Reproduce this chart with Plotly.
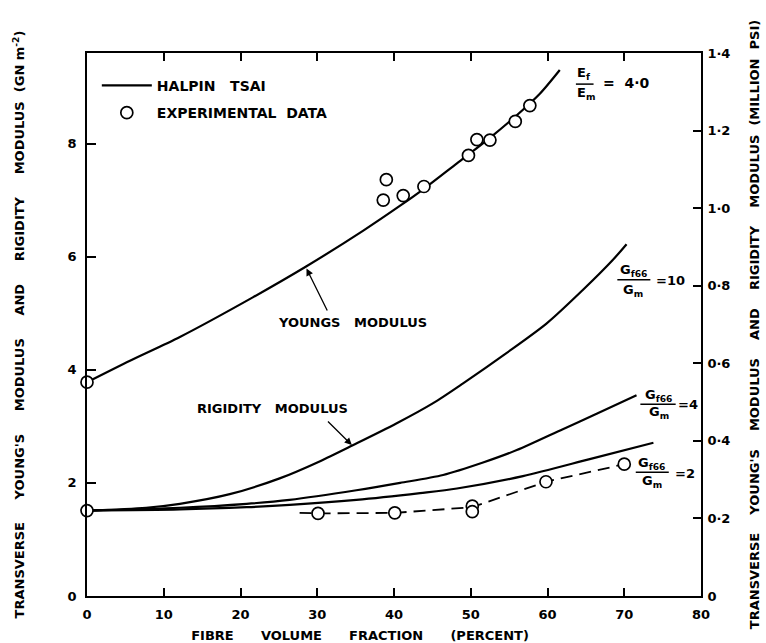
import plotly.graph_objects as go

# ---------------- data ----------------
# Halpin-Tsai prediction, transverse Young's modulus (Ef/Em = 4.0)
x_young = [0, 5.6, 12.1, 21.6, 28.6, 36.0, 40.8, 43.8, 48.2, 52.5, 56.0, 59.0, 61.6]
y_young = [3.78, 4.16, 4.58, 5.28, 5.83, 6.46, 6.90, 7.19, 7.65, 8.10, 8.50, 8.88, 9.30]

# Halpin-Tsai prediction, rigidity modulus, Gf66/Gm = 10
x_g10 = [0, 7.7, 12.1, 18.6, 25.1, 30.3, 34.7, 40.3, 45.1, 49.0, 54.6, 59.9, 64.6, 68.5, 70.3]
y_g10 = [1.51, 1.56, 1.63, 1.80, 2.08, 2.38, 2.67, 3.05, 3.41, 3.76, 4.29, 4.82, 5.41, 5.94, 6.22]

# Gf66/Gm = 4
x_g4 = [0, 12.1, 20.8, 26.4, 35.1, 40.8, 46.4, 51.6, 56.0, 62.0, 66.4, 71.6]
y_g4 = [1.51, 1.56, 1.63, 1.70, 1.87, 2.00, 2.14, 2.36, 2.58, 2.95, 3.22, 3.55]

# Gf66/Gm = 2
x_g2 = [0, 12.1, 20.8, 26.4, 35.1, 43.4, 48.2, 56.8, 65.5, 73.8]
y_g2 = [1.51, 1.53, 1.57, 1.61, 1.70, 1.82, 1.90, 2.12, 2.42, 2.71]

# Experimental data
x_exp_young = [0, 38.6, 39.0, 41.2, 43.9, 49.7, 50.8, 52.5, 55.8, 57.7]
y_exp_young = [3.78, 7.00, 7.36, 7.08, 7.24, 7.79, 8.07, 8.06, 8.39, 8.67]
x_exp_rig = [0, 30.1, 40.1, 50.2, 50.2, 59.8, 70.0]
y_exp_rig = [1.51, 1.46, 1.47, 1.59, 1.49, 2.02, 2.33]

# Dashed trend line through rigidity data
x_dash = [27.7, 30.1, 40.1, 50.2, 59.8, 70.0]
y_dash = [1.47, 1.46, 1.47, 1.57, 2.02, 2.33]

# Axis ticks
x_ticks = [0, 10, 20, 30, 40, 50, 60, 70, 80]
y_ticks = [0, 2, 4, 6, 8]
y2_ticks = [0, 0.2, 0.4, 0.6, 0.8, 1.0, 1.2, 1.4]
y2_ticktext = ["0", "0·2", "0·4", "0·6", "0·8", "1·0", "1·2", "1·4"]

# ---------------- figure ----------------
FONT = "DejaVu Sans"
BLACK = "black"


def sp(n):
    return "&nbsp;" * n


fig = go.Figure()

line_style = dict(color=BLACK, width=2.2, shape="spline", smoothing=0.8)
fig.add_trace(go.Scatter(x=x_young, y=y_young, mode="lines", line=line_style,
                         name="HALPIN" + sp(3) + "TSAI", legendgroup="ht",
                         showlegend=True, cliponaxis=False, hoverinfo="skip"))
for xs, ys in [(x_g10, y_g10), (x_g4, y_g4), (x_g2, y_g2)]:
    fig.add_trace(go.Scatter(x=xs, y=ys, mode="lines", line=line_style,
                             legendgroup="ht", showlegend=False,
                             cliponaxis=False, hoverinfo="skip"))

fig.add_trace(go.Scatter(x=x_dash, y=y_dash, mode="lines",
                         line=dict(color=BLACK, width=1.8, dash="12px,7px"),
                         showlegend=False, hoverinfo="skip"))

marker_style = dict(symbol="circle", size=12, color="white",
                    line=dict(color=BLACK, width=1.7))
fig.add_trace(go.Scatter(x=x_exp_young, y=y_exp_young, mode="markers",
                         marker=marker_style, name="EXPERIMENTAL" + sp(2) + "DATA",
                         legendgroup="exp", cliponaxis=False))
fig.add_trace(go.Scatter(x=x_exp_rig, y=y_exp_rig, mode="markers",
                         marker=marker_style, legendgroup="exp",
                         showlegend=False, cliponaxis=False))

# empty trace so the right-hand (million psi) axis is drawn
fig.add_trace(go.Scatter(x=[], y=[], yaxis="y2", mode="lines",
                         showlegend=False, hoverinfo="skip"))

# ---------------- annotations ----------------
annotations = []


def txt(x, y, text, xanchor="center", size=13):
    annotations.append(dict(x=x, y=y, xref="x", yref="y", text=text,
                            showarrow=False, xanchor=xanchor, yanchor="middle",
                            font=dict(family=FONT, size=size, color=BLACK, weight="bold")))


shapes = []


def bar(x0, x1, y):
    shapes.append(dict(type="line", xref="x", yref="y", x0=x0, x1=x1, y0=y, y1=y,
                       line=dict(color=BLACK, width=1.5)))


# Ef/Em = 4.0
txt(64.8, 9.23, "E<sub>f</sub>")
bar(63.7, 66.0, 9.05)
txt(65.0, 8.89, "E<sub>m</sub>")
txt(67.0, 9.07, "=" + sp(2) + "4·0", xanchor="left", size=14)

# Gf66/Gm = 10
txt(71.2, 5.75, "G<sub>f66</sub>")
bar(69.1, 73.4, 5.59)
txt(71.1, 5.41, "G<sub>m</sub>")
txt(73.9, 5.57, "=10", xanchor="left")

# Gf66/Gm = 4
txt(74.4, 3.55, "G<sub>f66</sub>")
bar(72.1, 76.7, 3.39)
txt(74.5, 3.24, "G<sub>m</sub>")
txt(76.8, 3.38, "=4", xanchor="left")

# Gf66/Gm = 2
txt(73.6, 2.35, "G<sub>f66</sub>")
bar(71.5, 75.8, 2.19)
txt(73.6, 2.02, "G<sub>m</sub>")
txt(76.3, 2.16, "=2", xanchor="left")

# curve labels
txt(34.65, 4.84, "YOUNGS" + sp(3) + "MODULUS")
txt(24.2, 3.32, "RIGIDITY" + sp(3) + "MODULUS")

# arrows
for hx, hy, tx, ty in [(28.6, 5.79, 31.4, 5.02), (34.5, 2.67, 31.2, 3.11)]:
    annotations.append(dict(x=hx, y=hy, xref="x", yref="y", ax=tx, ay=ty,
                            axref="x", ayref="y", text="", showarrow=True,
                            arrowhead=2, arrowsize=1.1, arrowwidth=1.3,
                            arrowcolor=BLACK))

tick_font = dict(family=FONT, size=13, color=BLACK, weight="bold")
title_font = dict(family=FONT, size=13, color=BLACK, weight="bold")

fig.update_layout(
    width=766, height=643,
    margin=dict(l=87, r=65, t=53, b=47, pad=0),
    paper_bgcolor="white", plot_bgcolor="white",
    showlegend=True,
    legend=dict(x=0.016, y=0.969, xanchor="left", yanchor="top",
                bgcolor="rgba(0,0,0,0)", borderwidth=0,
                font=dict(family=FONT, size=14, color=BLACK, weight="bold"),
                itemwidth=50, tracegroupgap=6, traceorder="grouped"),
    annotations=annotations,
    shapes=shapes,
    xaxis=dict(
        range=[0, 80], tickvals=x_ticks, ticks="inside", ticklen=8, tickwidth=1.5,
        tickcolor=BLACK, showline=True, linecolor=BLACK, linewidth=1.6,
        mirror="ticks", showgrid=False, zeroline=False, tickfont=tick_font,
        ticklabelstandoff=6, automargin=False,
        title=dict(text="FIBRE" + sp(6) + "VOLUME" + sp(6) + "FRACTION" + sp(6)
                   + "(PERCENT)" + sp(15),
                   font=title_font, standoff=11),
    ),
    yaxis=dict(
        range=[0, 9.6], tickvals=y_ticks, ticks="inside", ticklen=9, tickwidth=1.5,
        tickcolor=BLACK, showline=True, linecolor=BLACK, linewidth=1.6,
        mirror=False, showgrid=False, zeroline=False, tickfont=tick_font,
        ticklabelstandoff=6, automargin=False,
        title=dict(text="TRANSVERSE" + sp(5) + "YOUNG'S" + sp(5) + "MODULUS" + sp(5)
                   + "AND" + sp(5) + "RIGIDITY" + sp(5) + "MODULUS" + sp(2)
                   + "(GN&nbsp;m<sup>-2</sup>)",
                   font=title_font, standoff=40),
    ),
    yaxis2=dict(
        range=[0, 1.4], overlaying="y", side="right", anchor="x",
        tickvals=y2_ticks, ticktext=y2_ticktext, ticks="inside", ticklen=8,
        tickwidth=1.5, tickcolor=BLACK, showline=True, linecolor=BLACK,
        linewidth=1.6, showgrid=False, zeroline=False, tickfont=tick_font,
        ticklabelstandoff=2, automargin=False,
        title=dict(text="TRANSVERSE" + sp(4) + "YOUNG'S" + sp(4) + "MODULUS" + sp(4)
                   + "AND" + sp(4) + "RIGIDITY" + sp(4) + "MODULUS" + sp(2)
                   + "(MILLION" + sp(2) + "PSI)",
                   font=title_font, standoff=20),
    ),
)

fig.write_html("out.html")
